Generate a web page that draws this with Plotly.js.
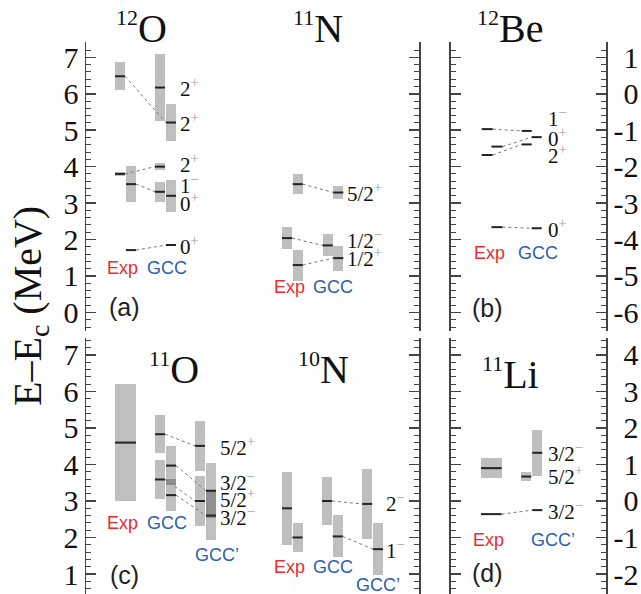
<!DOCTYPE html>
<html><head><meta charset="utf-8">
<script src="https://cdn.plot.ly/plotly-3.0.1.min.js"></script>
<style>html,body{margin:0;padding:0;background:#fff}#chart{width:641px;height:594px}</style>
</head><body><div id="chart"></div>
<script>
// ================= DATA (E - Ec in MeV; G = resonance width Γ drawn as box) =================
// (a) 12O
const O12_exp_E = [6.48, 3.80, 3.52, 1.71];
const O12_exp_G = [0.76, 0.12, 0.98, 0];
const O12_gcc_E = [6.17, 5.21, 4.00, 3.31, 3.20, 1.85];
const O12_gcc_G = [1.85, 1.01, 0.19, 0.55, 0.87, 0];
const O12_gcc_Jpi = ['2+', '2+', '2+', '1-', '0+', '0+'];
// (a) 11N
const N11_exp_E = [3.52, 2.04, 1.30];
const N11_exp_G = [0.56, 0.60, 0.85];
const N11_gcc_E = [3.29, 1.84, 1.49];
const N11_gcc_G = [0.36, 0.61, 0.69];
const N11_gcc_Jpi = ['5/2+', '1/2-', '1/2+'];
// (b) 12Be
const Be12_exp_E = [-0.97, -1.45, -1.68, -3.66];
const Be12_exp_G = [0, 0, 0, 0];
const Be12_gcc_E = [-1.02, -1.19, -1.39, -3.69];
const Be12_gcc_G = [0, 0, 0, 0];
const Be12_gcc_Jpi = ['1-', '0+', '2+', '0+'];
// (c) 11O
const O11_exp_E = [4.60];
const O11_exp_G = [3.20];
const O11_gcc_E = [4.83, 3.59, 3.97, 3.16];
const O11_gcc_G = [1.04, 1.09, 1.08, 0.86];
const O11_gccp_E = [4.51, 3.00, 3.28, 2.60];
const O11_gccp_G = [1.39, 1.37, 1.50, 1.35];
const O11_gccp_Jpi = ['5/2+', '5/2+', '3/2-', '3/2-'];
// (c) 10N
const N10_exp_E = [2.80, 2.00];
const N10_exp_G = [2.01, 0.82];
const N10_gcc_E = [3.00, 2.03];
const N10_gcc_G = [1.33, 1.15];
const N10_gccp_E = [2.92, 1.68];
const N10_gccp_G = [1.94, 1.42];
const N10_gccp_Jpi = ['2-', '1-'];
// (d) 11Li
const Li11_exp_E = [0.90, -0.36];
const Li11_exp_G = [0.53, 0];
const Li11_gccp_E = [0.67, 1.32, -0.25];
const Li11_gccp_G = [0.27, 1.26, 0];
const Li11_gccp_Jpi = ['5/2+', '3/2-', '3/2-'];

// tick labels
const ticksA = [0, 1, 2, 3, 4, 5, 6, 7];
const ticksB = [-6, -5, -4, -3, -2, -1, 0, 1];
const ticksC = [1, 2, 3, 4, 5, 6, 7];
const ticksD = [-2, -1, 0, 1, 2, 3, 4];

// ================= LAYOUT HELPERS (positions / styles) =================
const SERIF = 'Liberation Serif, Times New Roman, serif';
const SANS = 'Liberation Sans, Arial, sans-serif';
const RED = '#ee2a2e', BLUE = '#2a5fae';
const BOX = 'rgba(0,0,0,0.25)';

// column sub-slot centres (x in panel pixel units) and which slot each level uses
// title position: tx along x axis, tyPaper (top row) or ty in axis units (bottom row)
const nuclei = [
  { xa:'x', ya:'y', title:'<sup>12</sup>O', tx:141, tyPaper:1.0245,
    series:[
      {E:O12_exp_E, G:O12_exp_G, cols:[120,131], slot:[0,0,1,1], w:10},
      {E:O12_gcc_E, G:O12_gcc_G, cols:[160,171], slot:[0,1,0,0,1,1], w:10}],
    links:[[0,0,1,1],[0,1,1,2],[0,2,1,3],[0,3,1,5]],
    labels:{s:1, J:O12_gcc_Jpi, x:178, y:[6.16,5.20,4.10,3.52,3.03,1.85]},
    names:[['Exp',122,1.22,RED],['GCC',166.5,1.22,BLUE]] },
  { xa:'x', ya:'y', title:'<sup>11</sup>N', tx:318, tyPaper:1.0245,
    series:[
      {E:N11_exp_E, G:N11_exp_G, cols:[287,297.7], slot:[1,0,1], w:10},
      {E:N11_gcc_E, G:N11_gcc_G, cols:[327.7,338.3], slot:[1,0,1], w:10}],
    links:[[0,0,1,0],[0,1,1,1],[0,2,1,2]],
    labels:{s:1, J:N11_gcc_Jpi, x:345, y:[3.28,1.99,1.50]},
    names:[['Exp',289.5,0.70,RED],['GCC',333,0.70,BLUE]] },
  { xa:'x2', ya:'y2', title:'<sup>12</sup>Be', tx:510, tyPaper:1.0245,
    series:[
      {E:Be12_exp_E, G:Be12_exp_G, cols:[487.2,497], slot:[0,1,0,1], w:11},
      {E:Be12_gcc_E, G:Be12_gcc_G, cols:[526.7,536.7], slot:[0,1,0,1], w:10}],
    links:[[0,0,1,0],[0,1,1,1],[0,2,1,2],[0,3,1,3]],
    labels:{s:1, J:Be12_gcc_Jpi, x:546, y:[-0.66,-1.21,-1.68,-3.71]},
    names:[['Exp',489.5,-4.37,RED],['GCC',538.5,-4.37,BLUE]] },
  { xa:'x3', ya:'y3', title:'<sup>11</sup>O', tx:174, ty:6.62,
    series:[
      {E:O11_exp_E, G:O11_exp_G, cols:[125.5], slot:[0], w:21},
      {E:O11_gcc_E, G:O11_gcc_G, cols:[160,171], slot:[0,0,1,1], w:10},
      {E:O11_gccp_E, G:O11_gccp_G, cols:[200,211], slot:[0,0,1,1], w:10}],
    links:[[1,0,2,0],[1,1,2,1],[1,2,2,2],[1,3,2,3]],
    labels:{s:2, J:O11_gccp_Jpi, x:218, y:[4.49,3.08,3.53,2.57]},
    names:[['Exp',122.5,2.40,RED],['GCC',167,2.40,BLUE],['GCC\u2019',217,1.52,BLUE]] },
  { xa:'x3', ya:'y3', title:'<sup>10</sup>N', tx:323, ty:6.62,
    series:[
      {E:N10_exp_E, G:N10_exp_G, cols:[287,297.5], slot:[0,1], w:10},
      {E:N10_gcc_E, G:N10_gcc_G, cols:[327,337.7], slot:[0,1], w:10},
      {E:N10_gccp_E, G:N10_gccp_G, cols:[367.2,378], slot:[0,1], w:10}],
    links:[[1,0,2,0],[1,1,2,1]],
    labels:{s:2, J:N10_gccp_Jpi, x:384, y:[2.95,1.68]},
    names:[['Exp',289,1.20,RED],['GCC',333,1.20,BLUE],['GCC\u2019',377.5,0.70,BLUE]] },
  { xa:'x4', ya:'y4', title:'<sup>11</sup>Li', tx:511, ty:3.48,
    series:[
      {E:Li11_exp_E, G:Li11_exp_G, cols:[491.3], slot:[0,0], w:20.7},
      {E:Li11_gccp_E, G:Li11_gccp_G, cols:[526.3,537.3], slot:[0,1,1], w:10}],
    links:[[0,1,1,2]],
    labels:{s:1, J:Li11_gccp_Jpi, x:546, y:[0.71,1.32,-0.25]},
    names:[['Exp',489,-1.07,RED],['GCC\u2019',553.5,-1.07,BLUE]] }
];

const boxTraces = [], linkTraces = [], lineTraces = [];
const annotations = [];

function jpi(s) {
  const sign = s.slice(-1) === '+' ? '+' : '\u2212';
  return s.slice(0, -1) + '<sup><span style="color:#a0a0a0">' + sign + '</span></sup>';
}

nuclei.forEach(n => {
  const bx = [], bb = [], by = [], bw = [], lx = [], ly = [];
  const xsOf = s => s.slot.map(k => s.cols[k]);
  n.series.forEach(s => {
    const xs = xsOf(s);
    s.E.forEach((e, i) => {
      const g = s.G[i];
      if (g > 0) { bx.push(xs[i]); bb.push(e - g / 2); by.push(g); bw.push(s.w); }
      lx.push(xs[i] - s.w / 2, xs[i] + s.w / 2, null); ly.push(e, e, null);
    });
  });
  boxTraces.push({type:'bar', x:bx, y:by, base:bb, width:bw, xaxis:n.xa, yaxis:n.ya,
    marker:{color:BOX, line:{width:0}}, hoverinfo:'skip', showlegend:false});
  const dx = [], dy = [];
  n.links.forEach(([a, i, b, j]) => {
    const sa = n.series[a], sb = n.series[b];
    dx.push(xsOf(sa)[i] + sa.w / 2, xsOf(sb)[j] - sb.w / 2, null);
    dy.push(sa.E[i], sb.E[j], null);
  });
  linkTraces.push({type:'scatter', mode:'lines', x:dx, y:dy, xaxis:n.xa, yaxis:n.ya,
    line:{color:'#777', width:1, dash:'dot'}, hoverinfo:'skip', showlegend:false});
  lineTraces.push({type:'scatter', mode:'lines', x:lx, y:ly, xaxis:n.xa, yaxis:n.ya,
    line:{color:'#222', width:2}, hoverinfo:'skip', showlegend:false});
  // title
  const ttext = n.title.replace('<sup>', '<sup><span style="font-size:22px">').replace('</sup>', '</span></sup>');
  const tAnn = {xref:n.xa, x:n.tx, text:ttext, showarrow:false, xanchor:'center', yanchor:'middle',
    font:{family:SERIF, size:40, color:'#111'}};
  if (n.tyPaper !== undefined) { tAnn.yref = 'paper'; tAnn.y = n.tyPaper; } else { tAnn.yref = n.ya; tAnn.y = n.ty; }
  annotations.push(tAnn);
  // J^pi labels
  n.labels.J.forEach((j, k) => annotations.push({xref:n.xa, yref:n.ya, x:n.labels.x, y:n.labels.y[k],
    text:jpi(j), showarrow:false, xanchor:'left', yanchor:'middle', font:{family:SERIF, size:21, color:'#111'}}));
  // column names
  n.names.forEach(([t, x, y, c]) => annotations.push({xref:n.xa, yref:n.ya, x:x, y:y, text:t,
    showarrow:false, xanchor:'center', yanchor:'middle', font:{family:SANS, size:18, color:c}}));
});

// panel tags
[['(a)', 'x', 'y', 124, 0.15], ['(b)', 'x2', 'y2', 487.5, -5.88], ['(c)', 'x3', 'y3', 124.5, 0.97], ['(d)', 'x4', 'y4', 487.5, -1.97]]
  .forEach(([t, xa, ya, x, y]) => annotations.push({xref:xa, yref:ya, x:x, y:y, text:t, showarrow:false,
    xanchor:'center', yanchor:'middle', font:{family:SANS, size:25, color:'#222'}}));

// y title
annotations.push({xref:'paper', yref:'paper', x:-0.108, y:0.5215, text:'E\u2013E<sub>c</sub> (MeV)', textangle:-90,
  showarrow:false, xanchor:'center', yanchor:'middle', font:{family:SERIF, size:40, color:'#111'}});

const pad = v => (v >= 0 ? '\u2004' : '') + v;
function yax(extra) {
  return Object.assign({
    showline:true, linecolor:'#444', linewidth:1.5, mirror:'ticks', ticks:'inside', ticklen:10, tickwidth:1.5, tickcolor:'#444',
    showgrid:false, zeroline:false, fixedrange:true, autorange:false,
    minor:{dtick:0.2, tick0:0, ticks:'inside', ticklen:5, tickwidth:1, tickcolor:'#444', showgrid:false},
    tickfont:{family:SERIF, size:30, color:'#111'}
  }, extra);
}
const xax = (dom, r) => ({domain:dom, range:r, visible:false, fixedrange:true, autorange:false});

const domTop = [0.4764, 1], domBot = [0, 0.4638];
const layout = {
  width:641, height:594, margin:{l:86, r:35, t:42, b:0}, paper_bgcolor:'#fff', plot_bgcolor:'rgba(0,0,0,0)',
  showlegend:false, barmode:'overlay', bargap:0,
  xaxis: xax([0, 0.6404], [86, 419]),
  xaxis2: xax([0.7019, 1], [451, 606]),
  xaxis3: xax([0, 0.6404], [86, 419]),
  xaxis4: xax([0.7019, 1], [451, 606]),
  yaxis: yax({domain:domTop, range:[-0.51, 7.42], anchor:'x', tickmode:'array', tickvals:ticksA, ticktext:ticksA.map(String)}),
  yaxis2: yax({domain:domTop, range:[-6.51, 1.42], anchor:'x2', side:'right', tickmode:'array', tickvals:ticksB, ticktext:ticksB.map(pad)}),
  yaxis3: yax({domain:domBot, range:[0.452, 7.466], anchor:'x3', tickmode:'array', tickvals:ticksC, ticktext:ticksC.map(String)}),
  yaxis4: yax({domain:domBot, range:[-2.548, 4.466], anchor:'x4', side:'right', tickmode:'array', tickvals:ticksD, ticktext:ticksD.map(pad)}),
  annotations: annotations
};

Plotly.newPlot('chart', [...boxTraces, ...linkTraces, ...lineTraces], layout, {staticPlot:true, displayModeBar:false});
</script></body></html>
